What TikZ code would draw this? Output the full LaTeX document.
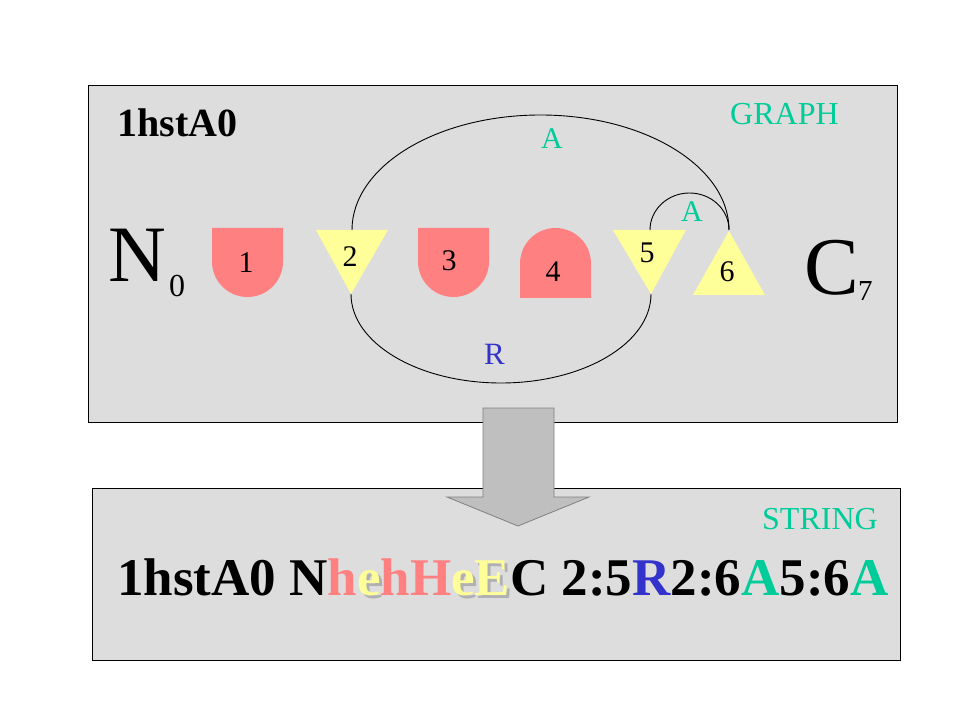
\documentclass[tikz,border=0pt]{standalone}
\usepackage{fontspec}
\setmainfont{Liberation Serif}
\usepackage{xcolor}
\definecolor{panel}{HTML}{DDDDDD}
\definecolor{helix}{HTML}{FF8080}
\definecolor{strand}{HTML}{FFFF99}
\definecolor{anti}{HTML}{00CC99}
\definecolor{para}{HTML}{3333CC}
\definecolor{shade}{HTML}{B0B0B0}
\newcommand{\fsz}[1]{\fontsize{#1}{#1}\selectfont}
\newcommand{\sse}[1]{\makebox[0pt][l]{\kern3pt\raisebox{-3pt}{\textcolor{shade}{#1}}}\textcolor{strand}{#1}}

\begin{document}
\begin{tikzpicture}[x=1pt, y=-1pt,
          panelbox/.style={draw=black, line width=0.8pt, fill=panel},
          hel/.style={fill=helix},
          str/.style={fill=strand},
          num/.style={anchor=base, inner sep=0pt, font=\fsz{30}},
          lbl/.style={anchor=base, inner sep=0pt, font=\fsz{30}, text=anti},
          conn/.style={line width=0.9pt}]
        \useasboundingbox[fill=white] (0,0) rectangle (959,719);
        % panels
        \draw[panelbox] (88,85) rectangle (897,422);
        \draw[panelbox] (92,488) rectangle (900,660);
        \node[anchor=base west, inner sep=0pt, font=\fsz{40}\bfseries] (id) at (117,137) {1hstA0};
        \node[anchor=base west, inner sep=0pt, font=\fsz{32}, text=anti] (graph) at (730,125) {GRAPH};
        \node[anchor=base west, inner sep=0pt, font=\fsz{32}, text=anti] (string) at (762,529) {STRING};
        % termini
        \node[anchor=base west, inner sep=0pt, font=\fsz{80}] (nt) at (108,282) {N};
        \node[anchor=base west, inner sep=0pt, font=\fsz{32}] (nt0) at (169,297) {0};
        \node[anchor=base west, inner sep=0pt, font=\fsz{82}] (ct) at (804,295) {C};
        \node[anchor=base west, inner sep=0pt, font=\fsz{29}] (ct7) at (858,301) {7};
        % secondary structure elements
        \path[hel] (212,228) -- (283,228) -- (283,261.5) arc[start angle=0, end angle=180, radius=35.5] -- cycle;
        \path[str] (316,230) -- (388,230) -- (351,294) -- cycle;
        \path[hel] (418,228) -- (489,228) -- (489,261.5) arc[start angle=0, end angle=180, radius=35.5] -- cycle;
        \path[hel] (520,298) -- (520,263.5) arc[start angle=180, end angle=360, radius=35.5] -- (591,298) -- cycle;
        \path[str] (613,230) -- (686,230) -- (651,294) -- cycle;
        \path[str] (693,295) -- (765,295) -- (729,231) -- cycle;
        \node[num] (e1) at (246,273) {1};
        \node[num] (e2) at (350,267) {2};
        \node[num] (e3) at (449,271) {3};
        \node[num] (e4) at (553,282) {4};
        \node[num] (e5) at (647,263) {5};
        \node[num] (e6) at (727,282) {6};
        \coordinate (s2top) at (352,230);
        \coordinate (s2tip) at (351,294);
        \coordinate (s5top) at (650,230);
        \coordinate (s5tip) at (651,294);
        \coordinate (s6tip) at (729,231);
        % pairings
        \draw[conn] (s2top) arc[start angle=180, end angle=360, x radius=188.5, y radius=115];
        \draw[conn] (s5top) arc[start angle=180, end angle=360, x radius=39.5, y radius=37];
        \draw[conn] (s2tip) arc[start angle=180, end angle=0, x radius=150, y radius=89];
        \node[lbl] (a26) at (552,149) {A};
        \node[lbl] (a56) at (692,222) {A};
        \node[lbl, text=para, font=\fsz{31}] (r25) at (494.5,365) {R};
        % conversion arrow
        \draw[draw=black!50, fill=black!25, line width=0.8pt] (483,408) -- (554,408) -- (554,497) -- (589,497)
          -- (518,526) -- (447,497) -- (483,497) -- cycle;
        % encoded string
        \node[anchor=base west, inner sep=0pt, font=\fsz{53}\bfseries] (code) at (117,595)
          {1hstA0 N\textcolor{helix}{h}\sse{e}\textcolor{helix}{hH}\sse{e}\sse{E}C 2:5\textcolor{para}{R}2:6\textcolor{anti}{A}5:6\textcolor{anti}{A}};
      \end{tikzpicture}
\end{document}
